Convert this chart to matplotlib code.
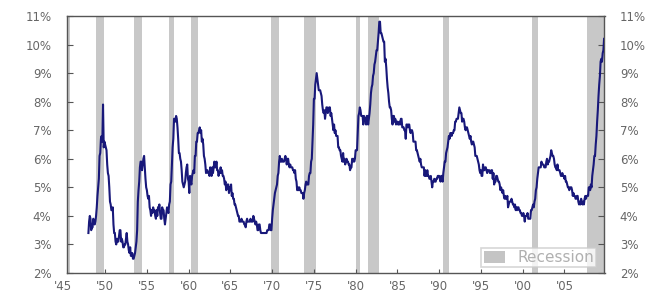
import numpy as np
import matplotlib
matplotlib.use("Agg")
import matplotlib.pyplot as plt
from matplotlib.patches import Patch
from matplotlib.transforms import blended_transform_factory, ScaledTranslation

# Monthly unemployment rate (%), Jan 1948 - Oct 2009
rate_1948_1959 = [
    3.4, 3.8, 4.0, 3.9, 3.5, 3.6, 3.6, 3.9, 3.8, 3.7, 3.8, 4.0,
    4.3, 4.7, 5.0, 5.3, 6.1, 6.2, 6.7, 6.8, 6.6, 7.9, 6.4, 6.6,
    6.5, 6.4, 6.3, 5.8, 5.5, 5.4, 5.0, 4.5, 4.4, 4.2, 4.2, 4.3,
    3.7, 3.4, 3.4, 3.1, 3.0, 3.2, 3.1, 3.1, 3.3, 3.5, 3.5, 3.1,
    3.2, 3.1, 2.9, 2.9, 3.0, 3.0, 3.2, 3.4, 3.1, 3.0, 2.8, 2.7,
    2.9, 2.6, 2.6, 2.7, 2.5, 2.5, 2.6, 2.7, 2.9, 3.1, 3.5, 4.5,
    4.9, 5.2, 5.7, 5.9, 5.9, 5.6, 5.8, 6.0, 6.1, 5.7, 5.3, 5.0,
    4.9, 4.7, 4.6, 4.7, 4.3, 4.2, 4.0, 4.2, 4.1, 4.3, 4.2, 4.2,
    4.0, 3.9, 4.2, 4.0, 4.3, 4.3, 4.4, 4.1, 3.9, 3.9, 4.3, 4.2,
    4.2, 3.9, 3.7, 3.9, 4.1, 4.3, 4.2, 4.1, 4.4, 4.5, 5.1, 5.2,
    5.8, 6.4, 6.7, 7.4, 7.4, 7.3, 7.5, 7.4, 7.1, 6.7, 6.2, 6.2,
    6.0, 5.9, 5.6, 5.2, 5.1, 5.0, 5.1, 5.2, 5.5, 5.7, 5.8, 5.3,
]
rate_1960s = [
    5.2, 4.8, 5.4, 5.2, 5.1, 5.4, 5.5, 5.6, 5.5, 6.1, 6.1, 6.6,
    6.6, 6.9, 6.9, 7.0, 7.1, 6.9, 7.0, 6.6, 6.7, 6.5, 6.1, 6.0,
    5.8, 5.5, 5.6, 5.6, 5.5, 5.5, 5.4, 5.7, 5.6, 5.4, 5.7, 5.5,
    5.7, 5.9, 5.7, 5.7, 5.9, 5.6, 5.6, 5.4, 5.5, 5.5, 5.7, 5.5,
    5.6, 5.4, 5.4, 5.3, 5.1, 5.2, 4.9, 5.0, 5.1, 5.1, 4.8, 5.0,
    4.9, 5.1, 4.7, 4.8, 4.6, 4.6, 4.4, 4.4, 4.3, 4.2, 4.1, 4.0,
    4.0, 3.8, 3.8, 3.8, 3.9, 3.8, 3.8, 3.8, 3.7, 3.7, 3.6, 3.8,
    3.9, 3.8, 3.8, 3.8, 3.8, 3.9, 3.8, 3.8, 3.8, 4.0, 3.9, 3.8,
    3.7, 3.8, 3.7, 3.5, 3.5, 3.7, 3.7, 3.5, 3.4, 3.4, 3.4, 3.4,
    3.4, 3.4, 3.4, 3.4, 3.4, 3.5, 3.5, 3.5, 3.7, 3.7, 3.5, 3.5,
]
rate_1970s = [
    3.9, 4.2, 4.4, 4.6, 4.8, 4.9, 5.0, 5.1, 5.4, 5.5, 5.9, 6.1,
    5.9, 5.9, 6.0, 5.9, 5.9, 5.9, 6.0, 6.1, 6.0, 5.8, 6.0, 6.0,
    5.8, 5.7, 5.8, 5.7, 5.7, 5.7, 5.6, 5.6, 5.5, 5.6, 5.3, 5.2,
    4.9, 5.0, 4.9, 5.0, 4.9, 4.9, 4.8, 4.8, 4.8, 4.6, 4.8, 4.9,
    5.1, 5.2, 5.1, 5.1, 5.1, 5.4, 5.5, 5.5, 5.9, 6.0, 6.6, 7.2,
    8.1, 8.1, 8.6, 8.8, 9.0, 8.8, 8.6, 8.4, 8.4, 8.4, 8.3, 8.2,
    7.9, 7.7, 7.6, 7.7, 7.4, 7.6, 7.8, 7.8, 7.6, 7.7, 7.8, 7.8,
    7.5, 7.6, 7.4, 7.2, 7.0, 7.2, 6.9, 7.0, 6.8, 6.8, 6.8, 6.4,
    6.4, 6.3, 6.3, 6.1, 6.0, 5.9, 6.2, 5.9, 6.0, 5.8, 5.9, 6.0,
    5.9, 5.9, 5.8, 5.8, 5.6, 5.7, 5.7, 6.0, 5.9, 6.0, 5.9, 6.0,
]
rate_1980s = [
    6.3, 6.3, 6.3, 6.9, 7.5, 7.6, 7.8, 7.7, 7.5, 7.5, 7.5, 7.2,
    7.5, 7.4, 7.4, 7.2, 7.5, 7.5, 7.2, 7.4, 7.6, 7.9, 8.3, 8.5,
    8.6, 8.9, 9.0, 9.3, 9.4, 9.6, 9.8, 9.8, 10.1, 10.4, 10.8, 10.8,
    10.4, 10.4, 10.3, 10.2, 10.1, 10.1, 9.4, 9.5, 9.2, 8.8, 8.5, 8.3,
    8.0, 7.8, 7.8, 7.7, 7.4, 7.2, 7.5, 7.5, 7.3, 7.4, 7.2, 7.3,
    7.3, 7.2, 7.2, 7.3, 7.2, 7.4, 7.4, 7.1, 7.1, 7.1, 7.0, 7.0,
    6.7, 7.2, 7.2, 7.1, 7.2, 7.2, 7.0, 6.9, 7.0, 7.0, 6.9, 6.6,
    6.6, 6.6, 6.6, 6.3, 6.3, 6.2, 6.1, 6.0, 5.9, 6.0, 5.8, 5.7,
    5.7, 5.7, 5.7, 5.4, 5.6, 5.4, 5.4, 5.6, 5.4, 5.4, 5.3, 5.3,
    5.4, 5.2, 5.0, 5.2, 5.2, 5.3, 5.2, 5.2, 5.3, 5.3, 5.4, 5.4,
]
rate_1990s = [
    5.4, 5.3, 5.2, 5.4, 5.4, 5.2, 5.5, 5.7, 5.9, 5.9, 6.2, 6.3,
    6.4, 6.6, 6.8, 6.7, 6.9, 6.9, 6.8, 6.9, 6.9, 7.0, 7.0, 7.3,
    7.3, 7.4, 7.4, 7.4, 7.6, 7.8, 7.7, 7.6, 7.6, 7.3, 7.4, 7.4,
    7.3, 7.1, 7.0, 7.1, 7.1, 7.0, 6.9, 6.8, 6.7, 6.8, 6.6, 6.5,
    6.6, 6.6, 6.5, 6.4, 6.1, 6.1, 6.1, 6.0, 5.9, 5.8, 5.6, 5.5,
    5.6, 5.4, 5.4, 5.8, 5.6, 5.6, 5.7, 5.7, 5.6, 5.5, 5.6, 5.6,
    5.6, 5.5, 5.5, 5.6, 5.6, 5.3, 5.5, 5.1, 5.2, 5.2, 5.4, 5.4,
    5.3, 5.2, 5.2, 5.1, 4.9, 5.0, 4.9, 4.8, 4.9, 4.7, 4.6, 4.7,
    4.6, 4.6, 4.7, 4.3, 4.4, 4.5, 4.5, 4.5, 4.6, 4.5, 4.4, 4.4,
    4.3, 4.4, 4.2, 4.3, 4.2, 4.3, 4.3, 4.2, 4.2, 4.1, 4.1, 4.0,
]
rate_2000s = [
    4.0, 4.1, 4.0, 3.8, 4.0, 4.0, 4.0, 4.1, 3.9, 3.9, 3.9, 3.9,
    4.2, 4.2, 4.3, 4.4, 4.3, 4.5, 4.6, 4.9, 5.0, 5.3, 5.5, 5.7,
    5.7, 5.7, 5.7, 5.9, 5.8, 5.8, 5.8, 5.7, 5.7, 5.7, 5.9, 6.0,
    5.8, 5.9, 5.9, 6.0, 6.1, 6.3, 6.2, 6.1, 6.1, 6.0, 5.8, 5.7,
    5.7, 5.6, 5.8, 5.6, 5.6, 5.6, 5.5, 5.4, 5.4, 5.5, 5.4, 5.4,
    5.3, 5.4, 5.2, 5.2, 5.1, 5.0, 5.0, 4.9, 5.0, 5.0, 5.0, 4.9,
    4.7, 4.8, 4.7, 4.7, 4.6, 4.6, 4.7, 4.7, 4.5, 4.4, 4.5, 4.4,
    4.6, 4.5, 4.4, 4.5, 4.4, 4.6, 4.7, 4.6, 4.7, 4.7, 4.7, 5.0,
    5.0, 4.9, 5.1, 5.0, 5.4, 5.6, 5.8, 6.1, 6.1, 6.5, 6.8, 7.3,
    7.7, 8.2, 8.6, 8.9, 9.4, 9.5, 9.4, 9.7, 9.8, 10.2,
]
start_year = 1948

# Recessions (start, end) in decimal years
recession_starts = [1945.1, 1948.9, 1953.5, 1957.6, 1960.25, 1969.9, 1973.83,
                    1980.0, 1981.5, 1990.5, 2001.17, 2007.65]
recession_ends = [1945.8, 1949.85, 1954.4, 1958.3, 1961.1, 1970.85, 1975.2,
                  1980.5, 1982.85, 1991.2, 2001.85, 2009.9]

x_ticks = [1945, 1950, 1955, 1960, 1965, 1970, 1975, 1980, 1985, 1990, 1995, 2000, 2005]
x_tick_labels = ["'45", "'50", "'55", "'60", "'65", "'70", "'75", "'80", "'85",
                 "'90", "'95", "'00", "'05"]
y_ticks = [2, 3, 4, 5, 6, 7, 8, 9, 10, 11]
y_tick_labels = [f"{v}%" for v in y_ticks]

rate = np.array(rate_1948_1959 + rate_1960s + rate_1970s + rate_1980s + rate_1990s + rate_2000s)
dates = start_year + np.arange(len(rate)) / 12.0

plt.rcParams['font.family'] = ['DejaVu Sans']
W, H = 655, 292
fig = plt.figure(figsize=(W / 100, H / 100), dpi=100)
left, right, top, bottom = 66.7, 604.5, 16, 273
ax = fig.add_axes([left / W, 1 - bottom / H, (right - left) / W, (bottom - top) / H])

xmin, xmax = 1945.4, 2009.8
ax.set_xlim(xmin, xmax)
ax.set_ylim(2, 11)

for s, e in zip(recession_starts, recession_ends):
    ax.axvspan(s, e, color='#c8c8c8', lw=0, zorder=1)

ax.plot(dates, rate, color='#18187a', lw=1.5, zorder=3)

spine_c = '#555555'
for sp in ax.spines.values():
    sp.set_color(spine_c)
    sp.set_linewidth(1.0)

lab_c = '#666666'
fs = 8.5
xpad = 5
vis_ticks = [t for t in x_ticks if t >= xmin]
vis_labels = [l for t, l in zip(x_ticks, x_tick_labels) if t >= xmin]
ax.set_xticks(vis_ticks)
ax.set_xticklabels(vis_labels)
trans = blended_transform_factory(ax.transData, ax.transAxes) + \
    ScaledTranslation(0, -xpad / 72, fig.dpi_scale_trans)
for t, l in zip(x_ticks, x_tick_labels):
    if t < xmin:
        ax.text(t, 0, l, transform=trans, ha='center', va='top',
                fontsize=fs, color=lab_c, clip_on=False)

ax.set_yticks(y_ticks)
ax.set_yticklabels(y_tick_labels)
ax.tick_params(axis='x', direction='in', length=3, pad=xpad, labelsize=fs,
               labelcolor=lab_c, color=spine_c)
ax.tick_params(axis='y', direction='in', length=4, pad=11, labelsize=fs,
               labelcolor=lab_c, color=spine_c, right=True, labelright=True)

leg = ax.legend(handles=[Patch(facecolor='#c4c4c4', edgecolor='none', label='Recession')],
                loc='lower right', bbox_to_anchor=(0.985, 0.022), frameon=True,
                fancybox=False, fontsize=11, handlelength=1.4, handleheight=0.8,
                borderpad=0.15, handletextpad=0.8, borderaxespad=0)
leg.get_frame().set_edgecolor('#cccccc')
leg.get_frame().set_linewidth(1.2)
for t in leg.get_texts():
    t.set_color('#b0b0b0')

fig.savefig('out.png', dpi=100, facecolor='white')
